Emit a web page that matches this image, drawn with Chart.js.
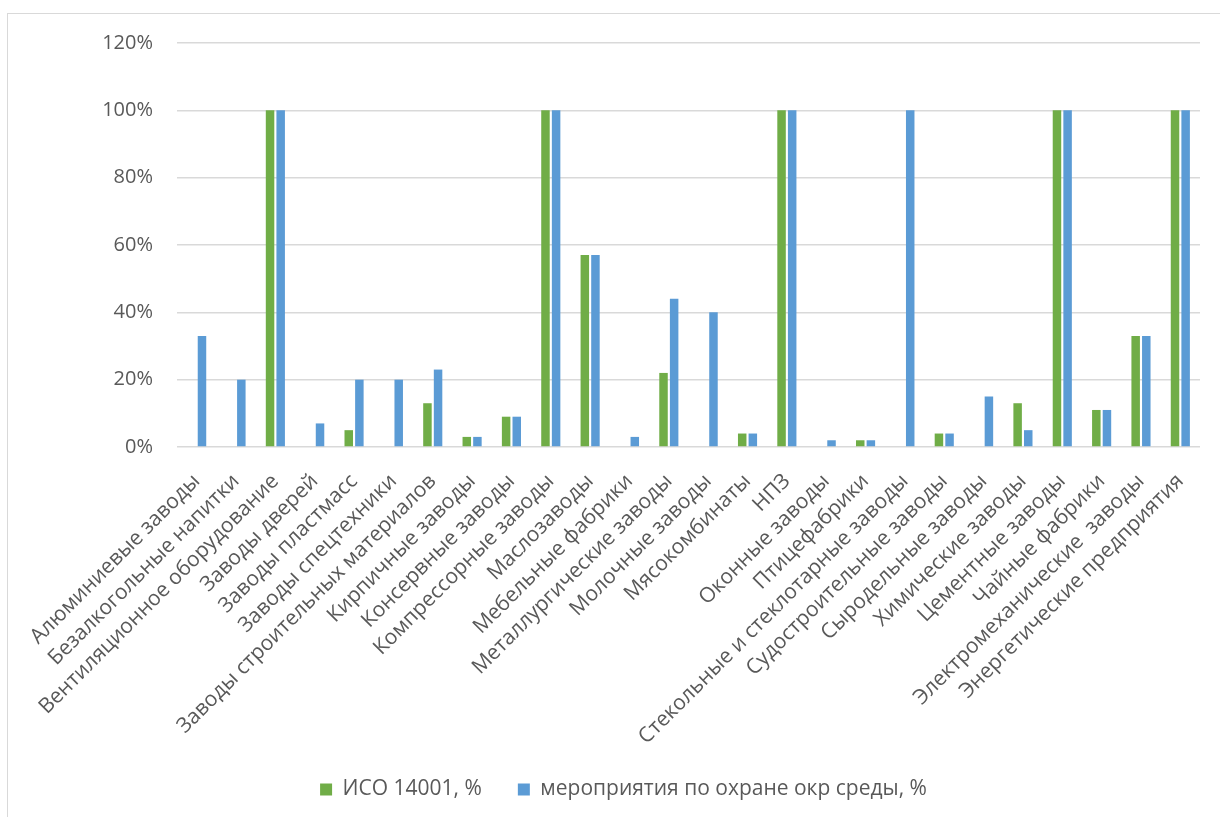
<!DOCTYPE html>
<html>
<head>
<meta charset="utf-8">
<script src="https://cdn.jsdelivr.net/npm/chart.js@4"></script>
<style>
  html, body { margin: 0; padding: 0; background: #fff; overflow: hidden; }
  #frame { position: absolute; left: 7px; top: 13px; width: 1260px; height: 900px; border: 1px solid #d9d9d9; }
  #wrap { position: absolute; left: 0; top: 0; width: 1220px; height: 817px; }
</style>
</head>
<body>
<div id="frame"></div>
<div id="wrap"><canvas id="myChart"></canvas></div>
<script>
const categories = [
  'Алюминиевые заводы', 'Безалкогольные напитки', 'Вентиляционное оборудование', 'Заводы дверей',
  'Заводы пластмасс', 'Заводы спецтехники', 'Заводы строительных материалов', 'Кирпичные заводы',
  'Консервные заводы', 'Компрессорные заводы', 'Маслозаводы', 'Мебельные фабрики',
  'Металлургические заводы', 'Молочные заводы', 'Мясокомбинаты', 'НПЗ', 'Оконные заводы',
  'Птицефабрики', 'Стекольные и стеклотарные заводы', 'Судостроительные заводы', 'Сыродельные заводы',
  'Химические заводы', 'Цементные заводы', 'Чайные фабрики', 'Электромеханические  заводы',
  'Энергетические предприятия'
];
const iso14001 = [0, 0, 100, 0, 5, 0, 13, 3, 9, 100, 57, 0, 22, 0, 4, 100, 0, 2, 0, 4, 0, 13, 100, 11, 33, 100];
const measures = [33, 20, 100, 7, 20, 20, 23, 3, 9, 100, 57, 3, 44, 40, 4, 100, 2, 2, 100, 4, 15, 5, 100, 11, 33, 100];
const yTicks = [0, 20, 40, 60, 80, 100, 120];

const textColor = '#595959';
const gridColor = '#d9d9d9';

const ctx = document.getElementById('myChart').getContext('2d');
const myChart = new Chart(ctx, {
  type: 'bar',
  data: {
    labels: categories,
    datasets: [{
      label: 'ИСО 14001, %',
      data: iso14001,
      backgroundColor: '#70ad47',
      categoryPercentage: 0.54,
      barPercentage: 0.8
    }, {
      label: 'мероприятия по охране окр среды, %',
      data: measures,
      backgroundColor: '#5b9bd5',
      categoryPercentage: 0.54,
      barPercentage: 0.8
    }]
  },
  options: {
    responsive: true,
    maintainAspectRatio: false,
    animation: false,
    layout: {
      padding: { left: 47, right: 20, top: 43, bottom: 7 }
    },
    plugins: {
      legend: {
        position: 'bottom',
        labels: {
          color: textColor,
          font: { family: 'Open Sans', size: 21 },
          boxWidth: 12,
          boxHeight: 12,
          padding: 36
        }
      },
      tooltip: { enabled: false }
    },
    scales: {
      x: {
        grid: { display: false },
        border: { display: false },
        ticks: {
          color: textColor,
          font: { family: 'Open Sans', size: 21 },
          minRotation: 45,
          maxRotation: 45,
          autoSkip: false,
          padding: 14
        },
        afterFit: (scale) => { scale.height = 296; }
      },
      y: {
        min: 0,
        max: 120,
        afterBuildTicks: (scale) => { scale.ticks = yTicks.map(v => ({ value: v })); },
        grid: { color: gridColor, lineWidth: 1.5, drawTicks: false },
        border: { display: false },
        ticks: {
          color: textColor,
          font: { family: 'Open Sans', size: 20 },
          padding: 24,
          callback: (v) => v + '%'
        },
        afterFit: (scale) => { scale.width = 130; }
      }
    }
  }
});
</script>
</body>
</html>
